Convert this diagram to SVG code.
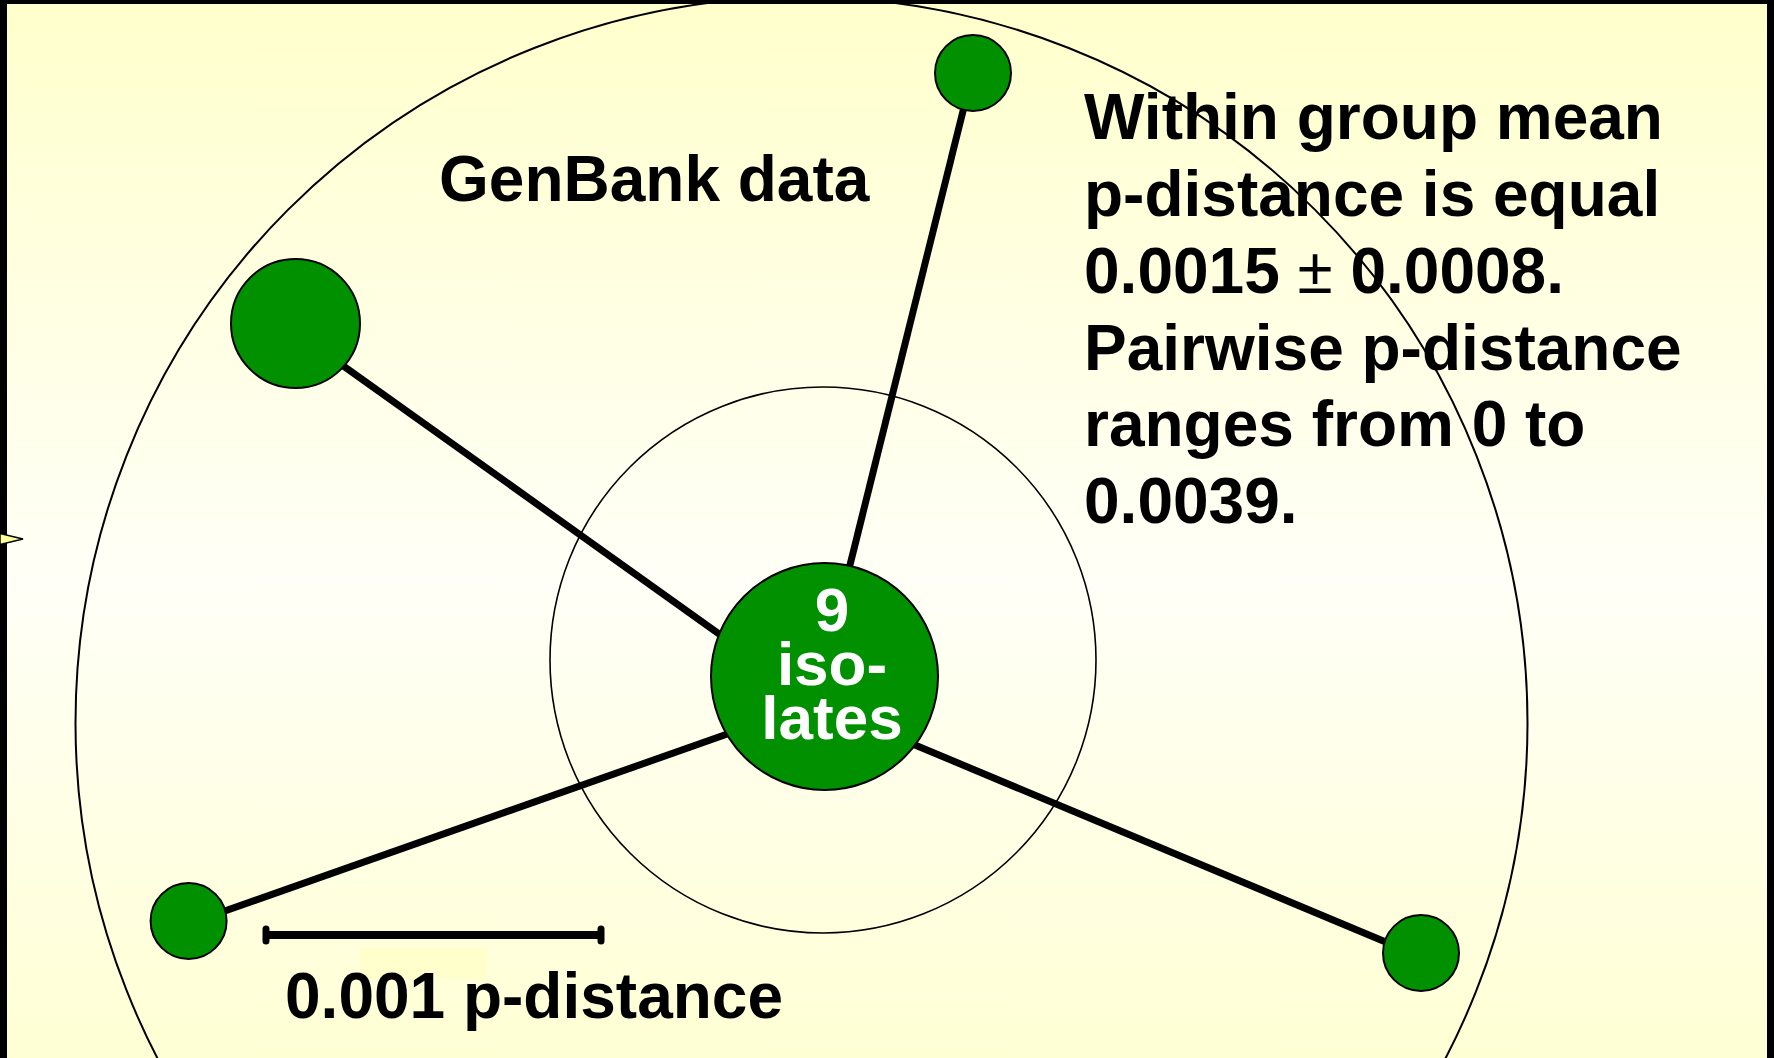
<svg xmlns="http://www.w3.org/2000/svg" width="1774" height="1058" viewBox="0 0 1774 1058">
<defs>
<linearGradient id="bg" x1="0" y1="0" x2="0" y2="1">
<stop offset="0" stop-color="#ffffcc"/>
<stop offset="0.55" stop-color="#fffff7"/>
<stop offset="1" stop-color="#ffffd4"/>
</linearGradient>
<style>
.ring{fill:none;stroke:#000;}
.edge{stroke:#000;stroke-width:7;stroke-linecap:butt;}
.node{fill:#009000;stroke:#000;stroke-width:2;}
.lbl{font-family:"Liberation Sans",Arial,sans-serif;font-weight:bold;font-size:64px;fill:#000;}
.ctr{font-family:"Liberation Sans",Arial,sans-serif;font-weight:bold;font-size:62px;fill:#fff;text-anchor:middle;}
</style>
</defs>
<rect x="0" y="0" width="1774" height="1058" fill="url(#bg)"/>
<rect x="360" y="948" width="127" height="31" fill="#ffffcc"/>
<g id="rings">
<circle class="ring" cx="801.5" cy="723" r="726" stroke-width="2"/>
<circle class="ring" cx="823" cy="660" r="273" stroke-width="1.6"/>
</g>
<g id="connectors">
<line class="edge" x1="845" y1="585" x2="967" y2="95"/>
<line class="edge" x1="734" y1="644.6" x2="332" y2="357.8"/>
<line class="edge" x1="745" y1="727.8" x2="212" y2="915.5"/>
<line class="edge" x1="900" y1="738.7" x2="1400" y2="948"/>
</g>
<g id="node-top"><circle class="node" cx="973" cy="73" r="38"/></g>
<g id="node-upper-left"><circle class="node" cx="295.5" cy="323.5" r="64.5"/></g>
<g id="node-lower-left"><circle class="node" cx="188.6" cy="921" r="38"/></g>
<g id="node-lower-right"><circle class="node" cx="1421" cy="953" r="38"/></g>
<g id="node-center">
<circle class="node" cx="824.5" cy="676.5" r="113.5"/>
<text class="ctr"><tspan x="832" y="631">9</tspan><tspan x="832" y="685">iso-</tspan><tspan x="832" y="739">lates</tspan></text>
</g>
<g id="scale-bar">
<line x1="266" y1="935" x2="601" y2="935" stroke="#000" stroke-width="8"/>
<line x1="266" y1="929" x2="266" y2="941" stroke="#000" stroke-width="7" stroke-linecap="round"/>
<line x1="601" y1="929" x2="601" y2="941" stroke="#000" stroke-width="7" stroke-linecap="round"/>
<text class="lbl" x="285" y="1018">0.001 p-distance</text>
</g>
<text class="lbl" x="439" y="201">GenBank data</text>
<text class="lbl">
<tspan x="1084" y="139">Within group mean</tspan>
<tspan x="1084" y="216">p-distance is equal</tspan>
<tspan x="1084" y="293">0.0015 <tspan font-weight="normal">±</tspan> 0.0008.</tspan>
<tspan x="1084" y="369.5">Pairwise p-distance</tspan>
<tspan x="1084" y="446">ranges from 0 to</tspan>
<tspan x="1084" y="522.5">0.0039.</tspan>
</text>
<g id="frame">
<rect x="0" y="0" width="1774" height="4" fill="#000"/>
<rect x="0" y="0" width="7" height="1058" fill="#000"/>
<rect x="1767" y="0" width="7" height="1058" fill="#000"/>
</g>
<polygon points="0,533.5 23,539 0,544.5" fill="#ffff99" stroke="#000" stroke-width="1.5"/>
</svg>
